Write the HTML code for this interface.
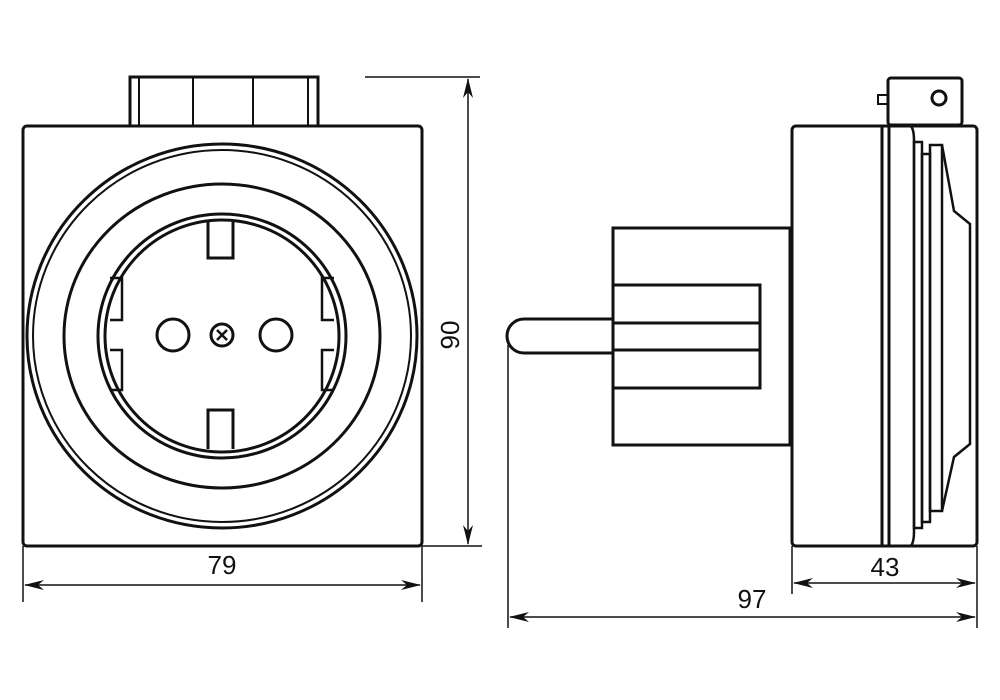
<!DOCTYPE html>
<html><head><meta charset="utf-8"><style>html,body{margin:0;padding:0;background:#fff}svg{display:block}</style></head>
<body>
<svg width="1000" height="700" viewBox="0 0 1000 700" xmlns="http://www.w3.org/2000/svg">
<defs>
<marker id="a" viewBox="0 0 20 10" refX="19" refY="5" markerWidth="20" markerHeight="10" markerUnits="userSpaceOnUse" orient="auto-start-reverse">
<path d="M0,0 L20,5 L0,10 L6,5 Z" fill="#111"/></marker>
</defs>
<g fill="none" stroke="#111" stroke-width="3">
<rect x="130" y="77" width="188" height="49"/>
<line x1="139" y1="77" x2="139" y2="126" stroke-width="2"/>
<line x1="193" y1="77" x2="193" y2="126" stroke-width="2"/>
<line x1="253" y1="77" x2="253" y2="126" stroke-width="2"/>
<line x1="308" y1="77" x2="308" y2="126" stroke-width="2"/>
<rect x="23" y="126" width="399" height="420" rx="4" fill="#fff"/>
<ellipse cx="222" cy="336" rx="195" ry="192"/>
<ellipse cx="222" cy="336" rx="189" ry="186" stroke-width="2"/>
<ellipse cx="222" cy="336" rx="158" ry="152"/>
<ellipse cx="222" cy="336" rx="124" ry="122"/>
<ellipse cx="222" cy="336" rx="117" ry="116"/>
<path d="M208 222 V258 H233 V222"/>
<path d="M208 449 V410 H233 V449"/>
<path d="M110 278 H122 V320 H110 M110 350 H122 V390 H110" stroke-width="2.5"/>
<path d="M334 278 H322 V320 H334 M334 350 H322 V390 H334" stroke-width="2.5"/>
<circle cx="173" cy="335" r="16"/>
<circle cx="276" cy="335" r="16"/>
<circle cx="222" cy="335" r="11"/>
<path d="M217 330 L227 340 M227 330 L217 340" stroke-width="2.5"/>
<g stroke-width="1.5">
<line x1="365" y1="77" x2="480" y2="77"/>
<line x1="422" y1="546" x2="482" y2="546"/>
<line x1="468" y1="79" x2="468" y2="544" marker-start="url(#a)" marker-end="url(#a)"/>
<line x1="23" y1="546" x2="23" y2="602"/>
<line x1="422" y1="546" x2="422" y2="602"/>
<line x1="25" y1="585" x2="420" y2="585" marker-start="url(#a)" marker-end="url(#a)"/>
</g>
<rect x="888" y="78" width="74" height="47" rx="3"/>
<rect x="878" y="95" width="10" height="9" stroke-width="2"/>
<circle cx="939" cy="98" r="7"/>
<rect x="792" y="126" width="185" height="420" rx="4" fill="#fff"/>
<line x1="882" y1="126" x2="882" y2="546"/>
<line x1="889" y1="126" x2="889" y2="546"/>
<path d="M911 126 Q914 130 914 140 V532 Q914 542 911 546" stroke-width="2.5"/>
<rect x="914" y="142" width="8" height="386" stroke-width="2.5"/>
<rect x="922" y="154" width="8" height="368" stroke-width="2.5"/>
<rect x="930" y="145" width="12" height="366" stroke-width="2.5"/>
<path d="M942 145 L954 211 L970 224 V444 L954 457 L942 511" stroke-width="2.5"/>
<rect x="613" y="228" width="177" height="217"/>
<rect x="613" y="285" width="147" height="103"/>
<line x1="613" y1="323" x2="760" y2="323"/>
<line x1="613" y1="350" x2="760" y2="350"/>
<path d="M613 319 H524 A17 17 0 0 0 524 353 H613"/>
<g stroke-width="1.5">
<line x1="508" y1="345" x2="508" y2="628"/>
<line x1="792" y1="546" x2="792" y2="594"/>
<line x1="977" y1="546" x2="977" y2="628"/>
<line x1="794" y1="583" x2="975" y2="583" marker-start="url(#a)" marker-end="url(#a)"/>
<line x1="510" y1="617" x2="975" y2="617" marker-start="url(#a)" marker-end="url(#a)"/>
</g>
</g>
<g font-family="Liberation Sans, DejaVu Sans, sans-serif" font-size="26" fill="#111" text-anchor="middle">
<text x="222" y="574">79</text>
<text x="885" y="576">43</text>
<text x="752" y="608">97</text>
<text x="0" y="0" transform="translate(459,335) rotate(-90)">90</text>
</g>
</svg>
</body></html>
